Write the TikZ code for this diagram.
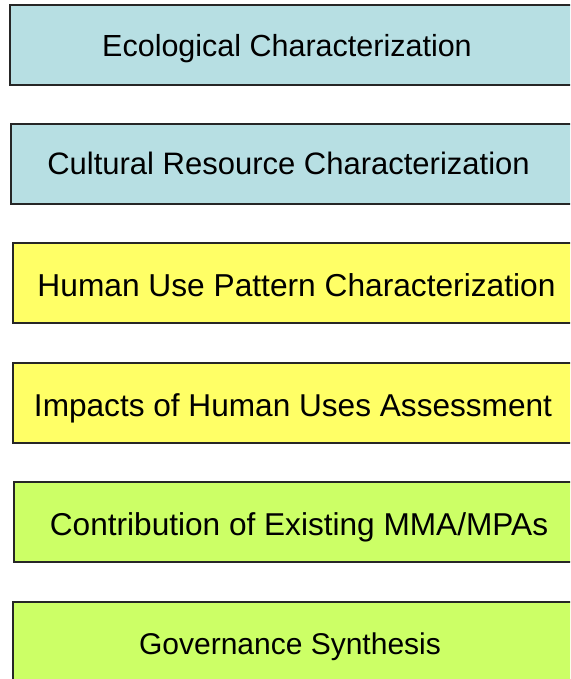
\documentclass[tikz,border=0pt]{standalone}
\usepackage{fontspec}
\setmainfont{Liberation Sans}
\definecolor{cblue}{RGB}{183,223,227}
\definecolor{cyel}{RGB}{255,255,102}
\definecolor{cgrn}{RGB}{204,255,102}
\tikzset{
  boxstyle/.style={draw=black!85, line width=2.2pt},
  lbl/.style={inner sep=0pt, anchor=base}
}
\newcommand{\fsz}[1]{\fontsize{#1}{#1}\selectfont}
\begin{document}
\begin{tikzpicture}[x=1pt,y=-1pt]
\useasboundingbox (0,0) rectangle (570,679);
\begin{scope}
\clip (0,0) rectangle (570,679);
\draw[boxstyle, fill=cblue] (10,5) rectangle (620,85);
\draw[boxstyle, fill=cblue] (11,124) rectangle (620,204);
\draw[boxstyle, fill=cyel] (13,243) rectangle (620,323);
\draw[boxstyle, fill=cyel] (13,363) rectangle (620,443);
\draw[boxstyle, fill=cgrn] (14,482) rectangle (620,562);
\draw[boxstyle, fill=cgrn] (13,602) rectangle (620,700);
\end{scope}
\node[lbl, font=\fsz{30.5}] (a) at (287,57) {Ecological Characterization};
\node[lbl, font=\fsz{31}] (b) at (288.5,175) {Cultural Resource Characterization};
\node[lbl, font=\fsz{31.7}] (c) at (296.5,296) {Human Use Pattern Characterization};
\node[lbl, font=\fsz{31.6}] (d) at (293,416) {Impacts of Human Uses Assessment};
\node[lbl, font=\fsz{31.6}] (e) at (299,535) {Contribution of Existing MMA/MPAs};
\node[lbl, font=\fsz{30}] (f) at (290,654) {Governance Synthesis};
\end{tikzpicture}
\end{document}
